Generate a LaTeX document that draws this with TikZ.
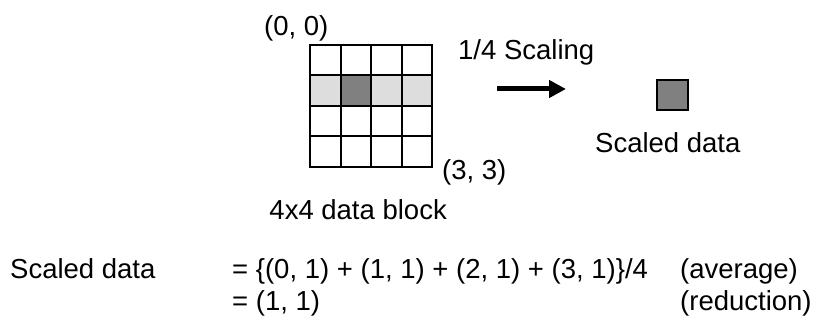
\documentclass[tikz,border=0pt]{standalone}
\usepackage{fontspec}
\setmainfont{Liberation Sans}
\usetikzlibrary{positioning,arrows.meta}
\definecolor{rowgray}{HTML}{DDDDDD}
\definecolor{pickgray}{HTML}{808080}
\begin{document}
\begin{tikzpicture}[x=1pt,y=-1pt,font=\fontsize{27.5}{33}\selectfont,
  cell/.style={minimum size=30.5pt,inner sep=0pt,outer sep=0pt},
  txt/.style={inner sep=0pt,anchor=base west}]
\useasboundingbox (0,0) rectangle (814,320);
% 4x4 block
\foreach \r in {0,...,3}
  \foreach \c in {0,...,3}
    \node[cell,fill=white] (c\c\r) at ({325.25+30.5*\c},{60.25+30.5*\r}) {};
\foreach \c in {0,2,3}
  \node[cell,fill=rowgray] at (c\c1) {};
\node[cell,fill=pickgray] at (c11) {};
\foreach \i in {0,...,4} {
  \draw[line width=2pt,line cap=rect] ({310+30.5*\i},45) -- ({310+30.5*\i},167);
  \draw[line width=2pt,line cap=rect] (310,{45+30.5*\i}) -- (432,{45+30.5*\i});
}
\node[txt] (o) at (264,36) {(0, 0)};
\node[txt] (e) at (442,180) {(3, 3)};
\node[txt,anchor=base east] (blk) at (447,220) {4x4 data block};
% scaling
\node[txt] (lbl) at (458,60) {1/4 Scaling};
\coordinate (a0) at (497,89);
\coordinate (a1) at (566,89);
\draw[line width=5pt,-{Triangle[length=17pt,width=17pt]}] (a0) -- (a1);
\node[cell,draw,line width=2pt,fill=pickgray] (sq) at (672.5,95) {};
\node[txt] (sd) at (595,153) {Scaled data};
% formula
\node[txt] (f0) at (10,279) {Scaled data};
\node[txt] (f1) at (232,279) {= \{(0, 1) + (1, 1) + (2, 1) + (3, 1)\}/4};
\node[txt] (f2) at (680,279) {(average)};
\node[txt] (f3) at (232,311) {= (1, 1)};
\node[txt] (f4) at (680,311) {(reduction)};
\end{tikzpicture}
\end{document}
